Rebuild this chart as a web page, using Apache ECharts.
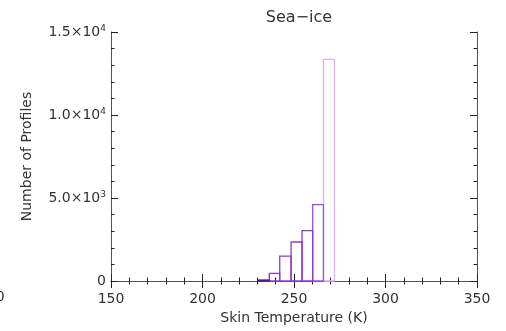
<!DOCTYPE html>
<html><head><meta charset="utf-8">
<script src="https://cdn.jsdelivr.net/npm/echarts@6/dist/echarts.min.js"></script>
<style>html,body{margin:0;padding:0;background:#fff}#c{width:506px;height:331px}</style>
</head><body><div id="c"></div>
<script>
// Histogram bin edges (K) and counts
const binEdges = [230.3, 236.5, 242.2, 248.4, 254.4, 260.2, 266.1, 272.1];
const counts   = [60, 460, 1500, 2350, 3030, 4600, 13350];
const xTicks = [150, 200, 250, 300, 350];
const yTicks = [0, 5000, 10000, 15000];
const binColors = ['#4c1a9a', '#8a3cc8', '#8a3cc8', '#8a3cc8', '#8a3cc8', '#9a50d4', '#d9b4f0'];

const data = counts.map((c, i) => [binEdges[i], binEdges[i + 1], c]);
const FONT = 'DejaVu Sans';
const TXT = '#333';
const AX = '#555';

function yFmt(v) {
  if (v === 0) return '0';
  const e = Math.floor(Math.log10(v));
  const m = (v / Math.pow(10, e)).toFixed(1);
  return m + '×10{s|' + e + '}';
}

const chart = echarts.init(document.getElementById('c'), null, {renderer: 'canvas'});
const common = {
  min: 150, max: 350, interval: 50,
  axisLine: {show: true, lineStyle: {color: AX, width: 1}},
  axisTick: {show: true, inside: true, length: 7, lineStyle: {color: '#222'}},
  minorTick: {show: true, splitNumber: 5, length: 3.5, lineStyle: {color: '#222'}},
  splitLine: {show: false}
};
chart.setOption({
  animation: false,
  title: {
    text: 'Sea−ice', left: 294, top: 5, textAlign: 'center',
    textStyle: {fontFamily: FONT, fontSize: 16, fontWeight: 'normal', color: TXT}
  },
  grid: {left: 111, right: 29, top: 32, bottom: 50, containLabel: false},
  xAxis: [
    Object.assign({}, common, {
      type: 'value', position: 'bottom',
      name: 'Skin Temperature (K)', nameLocation: 'middle', nameGap: 30,
      nameTextStyle: {fontFamily: FONT, fontSize: 14, color: TXT},
      axisLabel: {margin: 11, fontFamily: FONT, fontSize: 14, color: TXT,
        customValues: xTicks, showMinLabel: true, showMaxLabel: true}
    }),
    Object.assign({}, common, {
      type: 'value', position: 'top', axisLabel: {show: false}
    })
  ],
  yAxis: [
    {
      type: 'value', min: 0, max: 15000, interval: 5000, position: 'left',
      name: 'Number of Profiles', nameLocation: 'middle', nameGap: 77,
      nameTextStyle: {fontFamily: FONT, fontSize: 14, color: TXT},
      axisLine: {show: true, lineStyle: {color: AX}},
      axisTick: {show: true, inside: true, length: 7, lineStyle: {color: '#222'}},
      minorTick: {show: true, splitNumber: 5, length: 3.5, lineStyle: {color: '#222'}},
      splitLine: {show: false},
      axisLabel: {margin: 5, fontFamily: FONT, fontSize: 14, color: TXT,
        formatter: yFmt,
        rich: {s: {fontFamily: FONT, fontSize: 9, color: TXT, verticalAlign: 'top', padding: [0, 0, 7, 0]}}}
    },
    {
      type: 'value', min: 0, max: 15000, interval: 5000, position: 'right',
      axisLine: {show: true, lineStyle: {color: AX}},
      axisTick: {show: true, inside: true, length: 7, lineStyle: {color: '#222'}},
      minorTick: {show: true, splitNumber: 5, length: 3.5, lineStyle: {color: '#222'}},
      splitLine: {show: false},
      axisLabel: {show: false}
    }
  ],
  graphic: [{
    type: 'text', left: -22, top: 290,
    style: {text: '350', fontFamily: FONT, fontSize: 14, fill: TXT}
  }],
  series: [{
    type: 'custom',
    xAxisIndex: 0, yAxisIndex: 0,
    encode: {x: [0, 1], y: 2},
    data: data,
    renderItem: function (params, api) {
      const p0 = api.coord([api.value(0), 0]);
      const p1 = api.coord([api.value(1), api.value(2)]);
      const i = params.dataIndex;
      return {
        type: 'rect',
        shape: {x: p0[0], y: p1[1], width: p1[0] - p0[0], height: p0[1] - p1[1]},
        style: {fill: 'none', stroke: binColors[i], lineWidth: 1.3},
        z2: 10 - i
      };
    }
  }]
});
</script></body></html>
